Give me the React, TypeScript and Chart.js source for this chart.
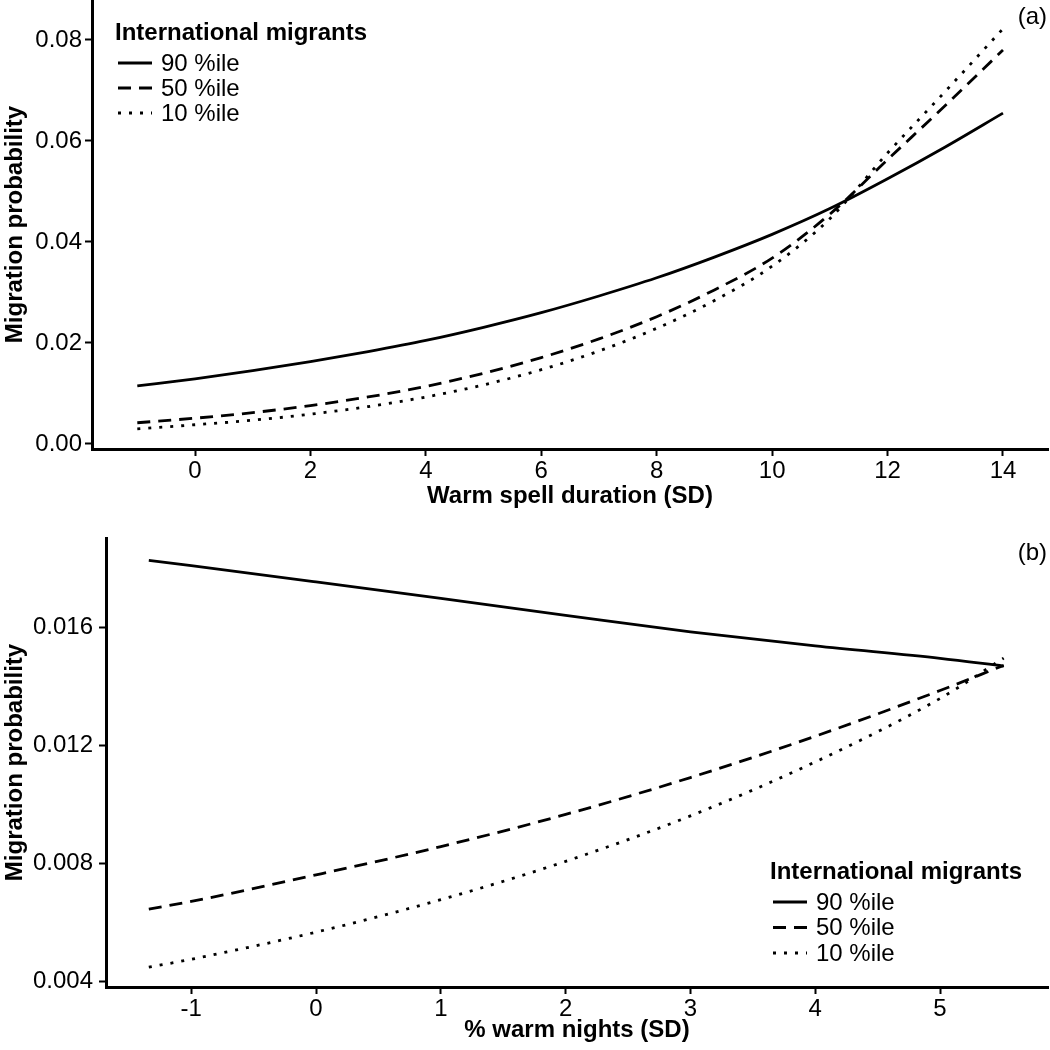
import React, { useEffect, useRef } from "react";
import { Chart, registerables } from "chart.js";

Chart.register(...registerables);

// ---------- data ----------
const seriesLabels = ["90 %ile", "50 %ile", "10 %ile"];
const legendTitle = "International migrants";

// Panel (a): warm spell duration
const warmSpellX = [-1, 0, 1, 2, 3, 4, 5, 6, 7, 8, 9, 10, 11, 12, 13, 14];
const warmSpell90 = [0.0115, 0.0129, 0.0145, 0.0163, 0.0183, 0.0205, 0.0231, 0.0260, 0.0293, 0.0329, 0.0370, 0.0415, 0.0466, 0.0525, 0.0588, 0.0655];
const warmSpell50 = [0.0042, 0.0051, 0.0062, 0.0076, 0.0093, 0.0114, 0.0140, 0.0171, 0.0208, 0.0252, 0.0305, 0.0368, 0.0455, 0.0563, 0.0670, 0.0780];
const warmSpell10 = [0.0030, 0.0038, 0.0047, 0.0059, 0.0074, 0.0093, 0.0117, 0.0147, 0.0184, 0.0229, 0.0284, 0.0352, 0.0446, 0.0576, 0.0698, 0.0822];
const warmSpellXTicks = [0, 2, 4, 6, 8, 10, 12, 14];
const warmSpellYTicks = [0, 0.02, 0.04, 0.06, 0.08];

// Panel (b): % warm nights
const warmNightsX = [-1.34, -1, 0, 1, 2, 3, 4, 5, 5.51];
const warmNights90 = [0.01826, 0.01808, 0.01753, 0.01697, 0.01640, 0.01584, 0.01536, 0.01494, 0.01468];
const warmNights50 = [0.00644, 0.00670, 0.00760, 0.00856, 0.00965, 0.01090, 0.01230, 0.01385, 0.01470];
const warmNights10 = [0.00447, 0.00474, 0.00566, 0.00676, 0.00806, 0.00960, 0.01143, 0.01358, 0.01495];
const warmNightsXTicks = [-1, 0, 1, 2, 3, 4, 5];
const warmNightsYTicks = [0.004, 0.008, 0.012, 0.016];

// ---------- styles ----------
const FONT = '"Liberation Sans", Arial, Helvetica, sans-serif';
const FS = 24;
const dashStyles: number[][] = [[], [13, 8], [3, 8]];

const legendPlugin = {
  id: "customLegend",
  afterDraw(chart: any, _args: any, opts: any) {
    const ctx = chart.ctx as CanvasRenderingContext2D;
    ctx.save();
    ctx.fillStyle = "#000";
    ctx.strokeStyle = "#000";
    ctx.textBaseline = "middle";
    ctx.textAlign = "left";
    ctx.font = `bold ${FS}px ${FONT}`;
    ctx.fillText(legendTitle, opts.x, opts.y);
    chart.data.datasets.forEach((ds: any, i: number) => {
      const y = opts.y + opts.firstGap + i * opts.rowGap;
      ctx.beginPath();
      ctx.setLineDash(ds.borderDash || []);
      ctx.lineWidth = ds.borderWidth;
      ctx.moveTo(opts.x + 3, y);
      ctx.lineTo(opts.x + 37, y);
      ctx.stroke();
      ctx.setLineDash([]);
      ctx.font = `${FS}px ${FONT}`;
      ctx.fillText(ds.label, opts.x + 46, y + 1);
    });
    ctx.font = `${FS}px ${FONT}`;
    ctx.textAlign = "right";
    ctx.fillText(opts.panel, opts.px, opts.py);
    ctx.restore();
  },
};

function makeDatasets(xs: number[], ys: number[][]) {
  return ys.map((arr, i) => ({
    label: seriesLabels[i],
    data: xs.map((x, j) => ({ x, y: arr[j] })),
    borderColor: "#000",
    backgroundColor: "#000",
    borderWidth: 2.8,
    borderDash: dashStyles[i],
    pointRadius: 0,
    fill: false,
    cubicInterpolationMode: "monotone" as const,
  }));
}

function buildConfig(p: any) {
  const tickFont = { family: FONT, size: FS };
  const titleFont = { family: FONT, size: FS, weight: "bold" as const };
  return {
    type: "line" as const,
    data: { datasets: makeDatasets(p.xs, p.ys) },
    plugins: [legendPlugin],
    options: {
      responsive: false,
      animation: false as const,
      events: [],
      layout: { padding: { top: p.padTop, right: 2, left: 0, bottom: 0 } },
      plugins: {
        legend: { display: false },
        tooltip: { enabled: false },
        customLegend: p.legend,
      },
      scales: {
        x: {
          type: "linear" as const,
          min: p.xMin,
          max: p.xMax,
          afterBuildTicks: (s: any) => {
            s.ticks = p.xTicks.map((v: number) => ({ value: v }));
          },
          afterFit: (s: any) => {
            s.height = p.xHeight;
            s.paddingLeft = 0;
            s.paddingRight = 0;
          },
          ticks: {
            autoSkip: false,
            maxRotation: 0,
            color: "#000",
            font: tickFont,
            padding: 1,
            callback: (v: any) => String(v),
          },
          grid: { drawOnChartArea: false, drawTicks: true, tickLength: 7, tickWidth: 2, tickColor: "#000" },
          border: { display: true, color: "#000", width: 3 },
          title: { display: true, text: p.xTitle, color: "#000", font: titleFont, padding: { top: 0, bottom: p.xTitlePad } },
        },
        y: {
          type: "linear" as const,
          min: p.yMin,
          max: p.yMax,
          afterBuildTicks: (s: any) => {
            s.ticks = p.yTicks.map((v: number) => ({ value: v }));
          },
          afterFit: (s: any) => {
            s.width = p.yWidth;
            s.paddingTop = 0;
            s.paddingBottom = 0;
          },
          ticks: {
            autoSkip: false,
            color: "#000",
            font: tickFont,
            padding: p.yTickPad,
            callback: (v: any) => Number(v).toFixed(p.yDecimals),
          },
          grid: { drawOnChartArea: false, drawTicks: true, tickLength: 7, tickWidth: 2, tickColor: "#000" },
          border: { display: true, color: "#000", width: 3 },
          title: { display: true, text: "Migration probability", color: "#000", font: titleFont, padding: { top: 1, bottom: 0 } },
        },
      },
    },
  };
}

function Panel({ params, top, height }: { params: any; top: number; height: number }) {
  const ref = useRef<HTMLCanvasElement | null>(null);
  useEffect(() => {
    if (!ref.current) return;
    const chart = new Chart(ref.current, buildConfig(params) as any);
    return () => chart.destroy();
  }, []);
  return (
    <canvas
      ref={ref}
      width={1050}
      height={height}
      style={{ position: "absolute", left: 0, top, width: 1050, height, display: "block" }}
    />
  );
}

const panelA = {
  xs: warmSpellX,
  ys: [warmSpell90, warmSpell50, warmSpell10],
  xMin: -1.785,
  xMax: 14.78,
  yMin: -0.001,
  yMax: 0.0879,
  xTicks: warmSpellXTicks,
  yTicks: warmSpellYTicks,
  yDecimals: 2,
  padTop: 0,
  xHeight: 71,
  yWidth: 92,
  yTickPad: 3,
  xTitle: "Warm spell duration (SD)",
  xTitlePad: 9,
  legend: { x: 115, y: 33, firstGap: 30, rowGap: 25, panel: "(a)", px: 1047, py: 17 },
};

const panelB = {
  xs: warmNightsX,
  ys: [warmNights90, warmNights50, warmNights10],
  xMin: -1.683,
  xMax: 5.865,
  yMin: 0.0038,
  yMax: 0.01902,
  xTicks: warmNightsXTicks,
  yTicks: warmNightsYTicks,
  yDecimals: 3,
  padTop: 18,
  xHeight: 63,
  yWidth: 106,
  yTickPad: 6,
  xTitle: "% warm nights (SD)",
  xTitlePad: 5,
  legend: { x: 770, y: 352, firstGap: 30, rowGap: 25.5, panel: "(b)", px: 1047, py: 33 },
};

export default function App() {
  return (
    <div style={{ position: "absolute", left: 0, top: 0, width: 1050, height: 1050, background: "#fff" }}>
      <Panel params={panelA} top={0} height={520} />
      <Panel params={panelB} top={520} height={530} />
    </div>
  );
}
